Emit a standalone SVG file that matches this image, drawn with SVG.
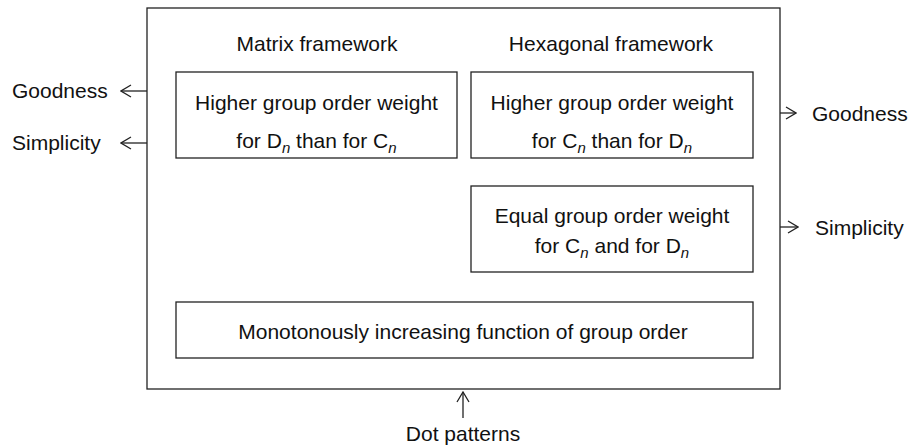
<svg xmlns="http://www.w3.org/2000/svg" width="912" height="445" viewBox="0 0 912 445">
<defs>
<style>
.box{fill:#fff;stroke:#222;stroke-width:1.3}
.t{font-family:"Liberation Sans",Arial,sans-serif;font-size:21px;fill:#111}
.c{text-anchor:middle}
.sub{font-size:15px;font-style:italic}
.line{stroke:#222;stroke-width:1.3;fill:none}
</style>
<marker id="arr" viewBox="0 0 12 14" refX="11" refY="7" markerWidth="12" markerHeight="14" markerUnits="userSpaceOnUse" orient="auto">
<path d="M1,1 L11,7 L1,13" fill="none" stroke="#222" stroke-width="1.3"/>
</marker>
</defs>
<rect width="912" height="445" fill="#fff"/>
<g id="outer">
<rect class="box" x="147" y="8" width="633" height="381"/>
<text class="t c" x="317" y="51">Matrix framework</text>
<text class="t c" x="611" y="51">Hexagonal framework</text>
</g>
<g id="matrix">
<rect class="box" x="176" y="72" width="281" height="86"/>
<text class="t c" x="316.5" y="110">Higher group order weight</text>
<text class="t c" x="316.5" y="148">for D<tspan class="sub" dy="5">n</tspan><tspan dy="-5"> than for C</tspan><tspan class="sub" dy="5">n</tspan></text>
</g>
<g id="hexagonal">
<rect class="box" x="471" y="72" width="282" height="86"/>
<text class="t c" x="612" y="110">Higher group order weight</text>
<text class="t c" x="612" y="148">for C<tspan class="sub" dy="5">n</tspan><tspan dy="-5"> than for D</tspan><tspan class="sub" dy="5">n</tspan></text>
</g>
<g id="equal">
<rect class="box" x="471" y="186" width="282" height="86"/>
<text class="t c" x="612" y="223">Equal group order weight</text>
<text class="t c" x="612" y="253">for C<tspan class="sub" dy="5">n</tspan><tspan dy="-5"> and for D</tspan><tspan class="sub" dy="5">n</tspan></text>
</g>
<g id="monotonous">
<rect class="box" x="176" y="302" width="577" height="56"/>
<text class="t c" x="463" y="339">Monotonously increasing function of group order</text>
</g>
<g id="labels">
<text class="t" x="12" y="98">Goodness</text>
<text class="t" x="12" y="150">Simplicity</text>
<text class="t" x="812" y="121">Goodness</text>
<text class="t" x="815" y="235">Simplicity</text>
<text class="t c" x="463" y="441">Dot patterns</text>
</g>
<g id="connectors">
<line class="line" x1="147" y1="91" x2="121" y2="91" marker-end="url(#arr)"/>
<line class="line" x1="147" y1="143" x2="121" y2="143" marker-end="url(#arr)"/>
<line class="line" x1="780" y1="113" x2="796" y2="113" marker-end="url(#arr)"/>
<line class="line" x1="780" y1="227" x2="798" y2="227" marker-end="url(#arr)"/>
<line class="line" x1="463" y1="418" x2="463" y2="392" marker-end="url(#arr)"/>
</g>
</svg>
